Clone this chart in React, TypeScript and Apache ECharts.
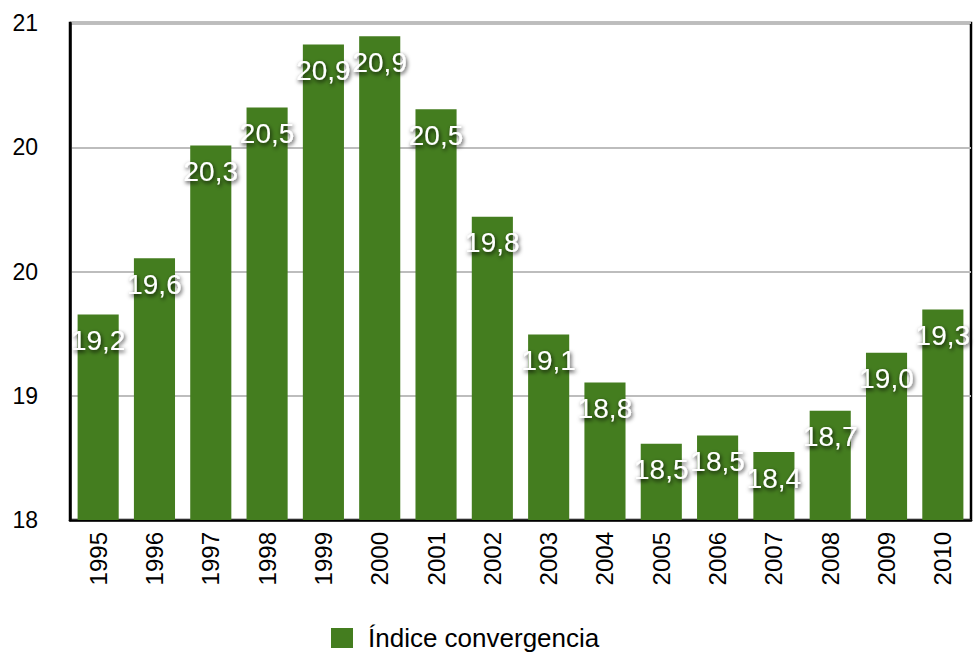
import React, { useEffect, useRef } from "react";
import * as echarts from "echarts";

const categories = ["1995","1996","1997","1998","1999","2000","2001","2002","2003","2004","2005","2006","2007","2008","2009","2010"];
const values = [19.24,19.58,20.26,20.49,20.87,20.92,20.48,19.83,19.12,18.83,18.46,18.51,18.41,18.66,19.01,19.27];
const seriesName = "Índice convergencia";
const yMin = 18;
const yMax = 21;
const yInterval = 0.75;

const FONT = "'Liberation Sans', Arial, Helvetica, sans-serif";

export default function App() {
  const ref = useRef<HTMLDivElement>(null);
  useEffect(() => {
    if (!ref.current) return;
    const chart = echarts.init(ref.current, undefined, { renderer: "svg" });
    chart.setOption({
      animation: false,
      backgroundColor: "#ffffff",
      grid: {
        left: 70,
        right: 5,
        top: 23,
        bottom: 132,
        show: true,
        borderColor: "#000000",
        borderWidth: 2.5,
        backgroundColor: "transparent",
      },
      legend: {
        data: [seriesName],
        left: 326,
        top: 620,
        icon: "rect",
        itemWidth: 22,
        itemHeight: 20,
        textStyle: { fontFamily: FONT, fontSize: 26, color: "#000", padding: [0, 0, 0, 10] },
      },
      xAxis: {
        type: "category",
        data: categories,
        axisLine: { show: true, lineStyle: { color: "#000", width: 2.5 } },
        axisTick: { show: false },
        axisLabel: {
          interval: 0,
          rotate: 90,
          margin: 12,
          fontFamily: FONT,
          fontSize: 24,
          color: "#000",
        },
      },
      yAxis: {
        type: "value",
        min: yMin,
        max: yMax,
        interval: yInterval,
        axisLine: { show: true, lineStyle: { color: "#000", width: 2.5 } },
        axisTick: { show: false },
        splitLine: { show: true, lineStyle: { color: "#bdbdbd", width: 2 } },
        axisLabel: {
          margin: 32,
          fontFamily: FONT,
          fontSize: 23,
          color: "#000",
          formatter: (v: number) => String(Math.round(v)),
        },
      },
      series: [
        {
          name: seriesName,
          type: "bar",
          data: values,
          barCategoryGap: "27%",
          itemStyle: { color: "#447d1f" },
          label: {
            show: true,
            position: "insideTop",
            distance: 12,
            fontFamily: FONT,
            fontSize: 28,
            color: "#ffffff",
            textShadowColor: "rgba(0,0,0,0.85)",
            textShadowBlur: 4,
            textShadowOffsetX: 1,
            textShadowOffsetY: 2,
            formatter: (p: any) => p.value.toFixed(1).replace(".", ","),
          },
        },
      ],
    });
    return () => chart.dispose();
  }, []);
  return <div ref={ref} style={{ width: 976, height: 652, position: "absolute", left: 0, top: 0 }} />;
}
